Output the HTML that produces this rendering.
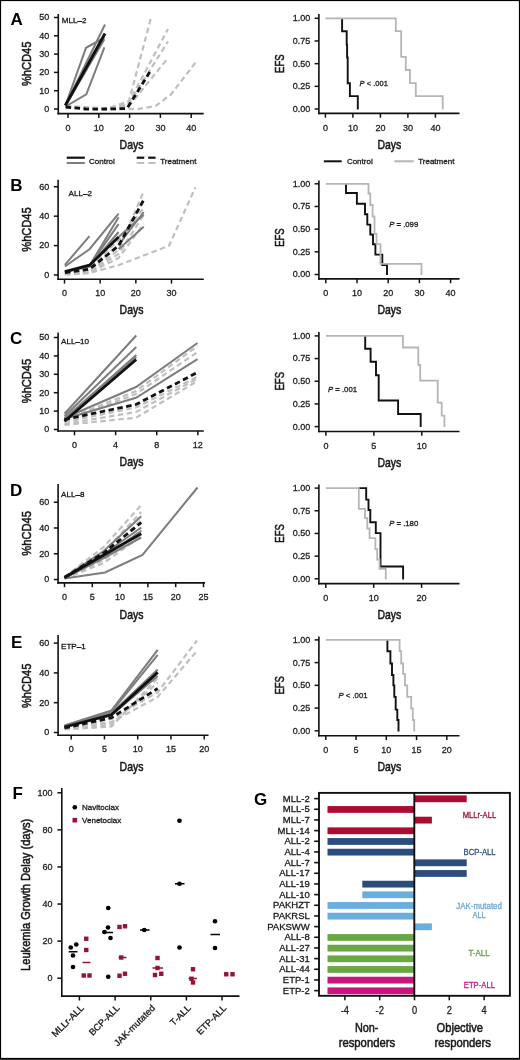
<!DOCTYPE html>
<html><head><meta charset="utf-8"><title>Figure</title>
<style>
html,body{margin:0;padding:0;background:#fff;}
body{width:520px;height:1060px;overflow:hidden;}
svg{display:block;font-family:"Liberation Sans", sans-serif;filter:blur(0.35px);}

</style></head>
<body>
<svg width="520" height="1060" viewBox="0 0 520 1060">
<rect x="0" y="0" width="520" height="1060" fill="#fff"/>
<text x="10.40" y="24.50" font-size="17" fill="#000" font-weight="bold" >A</text>
<line x1="58.30" y1="14.00" x2="58.30" y2="114.40" stroke="#111" stroke-width="1.6"/>
<line x1="57.50" y1="113.60" x2="203.70" y2="113.60" stroke="#111" stroke-width="1.6"/>
<line x1="54.00" y1="109.00" x2="58.30" y2="109.00" stroke="#111" stroke-width="1.5"/>
<text x="49.20" y="111.90" font-size="9.72" fill="#222" stroke="#222" stroke-width="0.3" text-anchor="end" textLength="5.0" lengthAdjust="spacingAndGlyphs" >0</text>
<line x1="54.00" y1="90.70" x2="58.30" y2="90.70" stroke="#111" stroke-width="1.5"/>
<text x="49.20" y="93.60" font-size="9.72" fill="#222" stroke="#222" stroke-width="0.3" text-anchor="end" textLength="10.01" lengthAdjust="spacingAndGlyphs" >10</text>
<line x1="54.00" y1="72.40" x2="58.30" y2="72.40" stroke="#111" stroke-width="1.5"/>
<text x="49.20" y="75.30" font-size="9.72" fill="#222" stroke="#222" stroke-width="0.3" text-anchor="end" textLength="10.01" lengthAdjust="spacingAndGlyphs" >20</text>
<line x1="54.00" y1="54.10" x2="58.30" y2="54.10" stroke="#111" stroke-width="1.5"/>
<text x="49.20" y="57.00" font-size="9.72" fill="#222" stroke="#222" stroke-width="0.3" text-anchor="end" textLength="10.01" lengthAdjust="spacingAndGlyphs" >30</text>
<line x1="54.00" y1="35.80" x2="58.30" y2="35.80" stroke="#111" stroke-width="1.5"/>
<text x="49.20" y="38.70" font-size="9.72" fill="#222" stroke="#222" stroke-width="0.3" text-anchor="end" textLength="10.01" lengthAdjust="spacingAndGlyphs" >40</text>
<line x1="54.00" y1="17.50" x2="58.30" y2="17.50" stroke="#111" stroke-width="1.5"/>
<text x="49.20" y="20.40" font-size="9.72" fill="#222" stroke="#222" stroke-width="0.3" text-anchor="end" textLength="10.01" lengthAdjust="spacingAndGlyphs" >50</text>
<line x1="68.00" y1="113.60" x2="68.00" y2="117.90" stroke="#111" stroke-width="1.5"/>
<text x="68.00" y="130.70" font-size="9.72" fill="#222" stroke="#222" stroke-width="0.3" text-anchor="middle" textLength="5.0" lengthAdjust="spacingAndGlyphs" >0</text>
<line x1="98.80" y1="113.60" x2="98.80" y2="117.90" stroke="#111" stroke-width="1.5"/>
<text x="98.80" y="130.70" font-size="9.72" fill="#222" stroke="#222" stroke-width="0.3" text-anchor="middle" textLength="10.01" lengthAdjust="spacingAndGlyphs" >10</text>
<line x1="129.60" y1="113.60" x2="129.60" y2="117.90" stroke="#111" stroke-width="1.5"/>
<text x="129.60" y="130.70" font-size="9.72" fill="#222" stroke="#222" stroke-width="0.3" text-anchor="middle" textLength="10.01" lengthAdjust="spacingAndGlyphs" >20</text>
<line x1="160.40" y1="113.60" x2="160.40" y2="117.90" stroke="#111" stroke-width="1.5"/>
<text x="160.40" y="130.70" font-size="9.72" fill="#222" stroke="#222" stroke-width="0.3" text-anchor="middle" textLength="10.01" lengthAdjust="spacingAndGlyphs" >30</text>
<line x1="191.20" y1="113.60" x2="191.20" y2="117.90" stroke="#111" stroke-width="1.5"/>
<text x="191.20" y="130.70" font-size="9.72" fill="#222" stroke="#222" stroke-width="0.3" text-anchor="middle" textLength="10.01" lengthAdjust="spacingAndGlyphs" >40</text>
<text x="61.70" y="23.00" font-size="8.1" fill="#1a1a1a" stroke="#1a1a1a" stroke-width="0.3" >MLL&#8211;2</text>
<text x="119.60" y="148.50" font-size="13" fill="#1a1a1a" stroke="#1a1a1a" stroke-width="0.55" textLength="23.8" lengthAdjust="spacingAndGlyphs" >Days</text>
<text x="31.00" y="86.05" font-size="13" fill="#1a1a1a" stroke="#1a1a1a" stroke-width="0.55" textLength="44.5" lengthAdjust="spacingAndGlyphs" transform="rotate(-90 31.00 86.05)">%hCD45</text>
<polyline points="65.60,106.00 108.00,108.50 129.00,101.00 150.80,18.50" fill="none" stroke="#bfbfbf" stroke-width="2.2" stroke-linejoin="miter" stroke-linecap="butt" stroke-dasharray="5.5,3.5"/>
<polyline points="65.60,106.50 108.00,108.50 128.00,104.00 168.00,29.00" fill="none" stroke="#bfbfbf" stroke-width="2.2" stroke-linejoin="miter" stroke-linecap="butt" stroke-dasharray="5.5,3.5"/>
<polyline points="65.60,107.00 108.00,109.00 128.00,105.00 168.00,41.50" fill="none" stroke="#bfbfbf" stroke-width="2.2" stroke-linejoin="miter" stroke-linecap="butt" stroke-dasharray="5.5,3.5"/>
<polyline points="65.60,107.00 108.00,109.00 129.00,106.00 168.00,58.00" fill="none" stroke="#bfbfbf" stroke-width="2.2" stroke-linejoin="miter" stroke-linecap="butt" stroke-dasharray="5.5,3.5"/>
<polyline points="65.60,107.50 108.00,109.50 139.00,108.80 155.60,106.00 171.00,94.40 196.90,60.80" fill="none" stroke="#bfbfbf" stroke-width="2.2" stroke-linejoin="miter" stroke-linecap="butt" stroke-dasharray="5.5,3.5"/>
<polyline points="65.60,105.00 86.00,47.80 104.40,37.70" fill="none" stroke="#7d7d7d" stroke-width="2.0" stroke-linejoin="miter" stroke-linecap="butt"/>
<polyline points="66.50,106.00 86.30,94.40 104.40,47.30" fill="none" stroke="#7d7d7d" stroke-width="2.0" stroke-linejoin="miter" stroke-linecap="butt"/>
<polyline points="65.60,105.00 105.00,24.50" fill="none" stroke="#7d7d7d" stroke-width="2.0" stroke-linejoin="miter" stroke-linecap="butt"/>
<polyline points="65.60,105.50 104.40,39.30" fill="none" stroke="#7d7d7d" stroke-width="2.0" stroke-linejoin="miter" stroke-linecap="butt"/>
<polyline points="65.30,105.50 105.00,33.50" fill="none" stroke="#111" stroke-width="2.9" stroke-linejoin="miter" stroke-linecap="butt"/>
<polyline points="65.60,107.00 86.00,109.00 99.00,109.20 127.00,108.50 150.80,70.40" fill="none" stroke="#111" stroke-width="2.8" stroke-linejoin="miter" stroke-linecap="butt" stroke-dasharray="5.5,3.5"/>
<line x1="66.70" y1="157.70" x2="84.80" y2="157.70" stroke="#111" stroke-width="2.2"/>
<line x1="66.70" y1="163.00" x2="84.80" y2="163.00" stroke="#7d7d7d" stroke-width="2.0"/>
<text x="89.00" y="164.30" font-size="8" fill="#1a1a1a" stroke="#1a1a1a" stroke-width="0.3" >Control</text>
<line x1="136.70" y1="157.70" x2="155.60" y2="157.70" stroke="#111" stroke-width="2.2"/>
<line x1="136.7" y1="157.7" x2="155.6" y2="157.7" stroke="#fff" stroke-width="3" stroke-dasharray="0,7.5,4,100"/>
<line x1="136.70" y1="163.00" x2="155.60" y2="163.00" stroke="#bfbfbf" stroke-width="2.0"/>
<line x1="136.7" y1="163" x2="155.6" y2="163" stroke="#fff" stroke-width="3" stroke-dasharray="0,7.5,4,100"/>
<text x="160.20" y="164.30" font-size="8" fill="#1a1a1a" stroke="#1a1a1a" stroke-width="0.3" >Treatment</text>
<text x="10.30" y="191.20" font-size="17" fill="#000" font-weight="bold" >B</text>
<line x1="58.10" y1="179.70" x2="58.10" y2="280.10" stroke="#111" stroke-width="1.6"/>
<line x1="57.30" y1="279.30" x2="203.80" y2="279.30" stroke="#111" stroke-width="1.6"/>
<line x1="53.80" y1="275.00" x2="58.10" y2="275.00" stroke="#111" stroke-width="1.5"/>
<text x="49.20" y="277.90" font-size="9.72" fill="#222" stroke="#222" stroke-width="0.3" text-anchor="end" textLength="5.0" lengthAdjust="spacingAndGlyphs" >0</text>
<line x1="53.80" y1="245.58" x2="58.10" y2="245.58" stroke="#111" stroke-width="1.5"/>
<text x="49.20" y="248.48" font-size="9.72" fill="#222" stroke="#222" stroke-width="0.3" text-anchor="end" textLength="10.01" lengthAdjust="spacingAndGlyphs" >20</text>
<line x1="53.80" y1="216.17" x2="58.10" y2="216.17" stroke="#111" stroke-width="1.5"/>
<text x="49.20" y="219.07" font-size="9.72" fill="#222" stroke="#222" stroke-width="0.3" text-anchor="end" textLength="10.01" lengthAdjust="spacingAndGlyphs" >40</text>
<line x1="53.80" y1="186.75" x2="58.10" y2="186.75" stroke="#111" stroke-width="1.5"/>
<text x="49.20" y="189.65" font-size="9.72" fill="#222" stroke="#222" stroke-width="0.3" text-anchor="end" textLength="10.01" lengthAdjust="spacingAndGlyphs" >60</text>
<line x1="64.50" y1="279.30" x2="64.50" y2="283.60" stroke="#111" stroke-width="1.5"/>
<text x="64.50" y="296.40" font-size="9.72" fill="#222" stroke="#222" stroke-width="0.3" text-anchor="middle" textLength="5.0" lengthAdjust="spacingAndGlyphs" >0</text>
<line x1="100.17" y1="279.30" x2="100.17" y2="283.60" stroke="#111" stroke-width="1.5"/>
<text x="100.17" y="296.40" font-size="9.72" fill="#222" stroke="#222" stroke-width="0.3" text-anchor="middle" textLength="10.01" lengthAdjust="spacingAndGlyphs" >10</text>
<line x1="135.84" y1="279.30" x2="135.84" y2="283.60" stroke="#111" stroke-width="1.5"/>
<text x="135.84" y="296.40" font-size="9.72" fill="#222" stroke="#222" stroke-width="0.3" text-anchor="middle" textLength="10.01" lengthAdjust="spacingAndGlyphs" >20</text>
<line x1="171.51" y1="279.30" x2="171.51" y2="283.60" stroke="#111" stroke-width="1.5"/>
<text x="171.51" y="296.40" font-size="9.72" fill="#222" stroke="#222" stroke-width="0.3" text-anchor="middle" textLength="10.01" lengthAdjust="spacingAndGlyphs" >30</text>
<text x="68.50" y="195.60" font-size="8.1" fill="#1a1a1a" stroke="#1a1a1a" stroke-width="0.3" >ALL&#8211;2</text>
<text x="119.60" y="313.70" font-size="13" fill="#1a1a1a" stroke="#1a1a1a" stroke-width="0.55" textLength="23.8" lengthAdjust="spacingAndGlyphs" >Days</text>
<text x="31.20" y="251.75" font-size="13" fill="#1a1a1a" stroke="#1a1a1a" stroke-width="0.55" textLength="44.5" lengthAdjust="spacingAndGlyphs" transform="rotate(-90 31.20 251.75)">%hCD45</text>
<polyline points="64.90,273.50 89.50,272.00 118.60,250.00 143.70,191.50" fill="none" stroke="#bfbfbf" stroke-width="2.2" stroke-linejoin="miter" stroke-linecap="butt" stroke-dasharray="5.5,3.5"/>
<polyline points="64.90,273.50 89.50,271.00 118.60,245.00 143.70,200.00" fill="none" stroke="#bfbfbf" stroke-width="2.2" stroke-linejoin="miter" stroke-linecap="butt" stroke-dasharray="5.5,3.5"/>
<polyline points="64.90,274.50 89.50,273.00 119.00,265.00 169.00,245.80 195.40,187.30" fill="none" stroke="#bfbfbf" stroke-width="2.2" stroke-linejoin="miter" stroke-linecap="butt" stroke-dasharray="5.5,3.5"/>
<polyline points="64.90,273.00 89.50,268.00 118.60,240.00 143.70,208.00" fill="none" stroke="#bfbfbf" stroke-width="2.2" stroke-linejoin="miter" stroke-linecap="butt" stroke-dasharray="5.5,3.5"/>
<polyline points="64.90,274.00 89.50,272.00 118.60,254.00 143.70,215.00" fill="none" stroke="#bfbfbf" stroke-width="2.2" stroke-linejoin="miter" stroke-linecap="butt" stroke-dasharray="5.5,3.5"/>
<polyline points="64.90,274.50 89.50,272.50 118.60,258.00 143.70,224.00" fill="none" stroke="#bfbfbf" stroke-width="2.2" stroke-linejoin="miter" stroke-linecap="butt" stroke-dasharray="5.5,3.5"/>
<polyline points="64.90,264.80 89.50,236.20" fill="none" stroke="#7d7d7d" stroke-width="2.0" stroke-linejoin="miter" stroke-linecap="butt"/>
<polyline points="64.90,266.50 89.50,249.20 118.60,213.70" fill="none" stroke="#7d7d7d" stroke-width="2.0" stroke-linejoin="miter" stroke-linecap="butt"/>
<polyline points="64.90,271.70 89.50,265.70 118.60,217.20" fill="none" stroke="#7d7d7d" stroke-width="2.0" stroke-linejoin="miter" stroke-linecap="butt"/>
<polyline points="89.50,265.70 118.60,224.10" fill="none" stroke="#7d7d7d" stroke-width="2.0" stroke-linejoin="miter" stroke-linecap="butt"/>
<polyline points="64.90,272.00 89.50,266.50 118.60,232.00" fill="none" stroke="#7d7d7d" stroke-width="2.0" stroke-linejoin="miter" stroke-linecap="butt"/>
<polyline points="118.60,249.20 143.70,226.70" fill="none" stroke="#7d7d7d" stroke-width="2.0" stroke-linejoin="miter" stroke-linecap="butt"/>
<polyline points="118.60,237.10 143.70,214.60" fill="none" stroke="#7d7d7d" stroke-width="2.0" stroke-linejoin="miter" stroke-linecap="butt"/>
<polyline points="118.60,245.00 143.70,212.00" fill="none" stroke="#7d7d7d" stroke-width="2.0" stroke-linejoin="miter" stroke-linecap="butt"/>
<polyline points="64.90,271.70 89.50,265.20 118.60,237.10" fill="none" stroke="#111" stroke-width="2.8" stroke-linejoin="miter" stroke-linecap="butt"/>
<polyline points="64.90,272.60 89.50,269.10 118.60,245.80 143.70,199.90" fill="none" stroke="#111" stroke-width="2.8" stroke-linejoin="miter" stroke-linecap="butt" stroke-dasharray="5.5,3.5"/>
<text x="9.90" y="343.80" font-size="17" fill="#000" font-weight="bold" >C</text>
<line x1="58.10" y1="332.50" x2="58.10" y2="431.80" stroke="#111" stroke-width="1.6"/>
<line x1="57.30" y1="431.00" x2="203.80" y2="431.00" stroke="#111" stroke-width="1.6"/>
<line x1="53.80" y1="429.50" x2="58.10" y2="429.50" stroke="#111" stroke-width="1.5"/>
<text x="49.20" y="432.40" font-size="9.72" fill="#222" stroke="#222" stroke-width="0.3" text-anchor="end" textLength="5.0" lengthAdjust="spacingAndGlyphs" >0</text>
<line x1="53.80" y1="411.10" x2="58.10" y2="411.10" stroke="#111" stroke-width="1.5"/>
<text x="49.20" y="414.00" font-size="9.72" fill="#222" stroke="#222" stroke-width="0.3" text-anchor="end" textLength="10.01" lengthAdjust="spacingAndGlyphs" >10</text>
<line x1="53.80" y1="392.70" x2="58.10" y2="392.70" stroke="#111" stroke-width="1.5"/>
<text x="49.20" y="395.60" font-size="9.72" fill="#222" stroke="#222" stroke-width="0.3" text-anchor="end" textLength="10.01" lengthAdjust="spacingAndGlyphs" >20</text>
<line x1="53.80" y1="374.30" x2="58.10" y2="374.30" stroke="#111" stroke-width="1.5"/>
<text x="49.20" y="377.20" font-size="9.72" fill="#222" stroke="#222" stroke-width="0.3" text-anchor="end" textLength="10.01" lengthAdjust="spacingAndGlyphs" >30</text>
<line x1="53.80" y1="355.90" x2="58.10" y2="355.90" stroke="#111" stroke-width="1.5"/>
<text x="49.20" y="358.80" font-size="9.72" fill="#222" stroke="#222" stroke-width="0.3" text-anchor="end" textLength="10.01" lengthAdjust="spacingAndGlyphs" >40</text>
<line x1="53.80" y1="337.50" x2="58.10" y2="337.50" stroke="#111" stroke-width="1.5"/>
<text x="49.20" y="340.40" font-size="9.72" fill="#222" stroke="#222" stroke-width="0.3" text-anchor="end" textLength="10.01" lengthAdjust="spacingAndGlyphs" >50</text>
<line x1="74.50" y1="431.00" x2="74.50" y2="435.30" stroke="#111" stroke-width="1.5"/>
<text x="74.50" y="448.10" font-size="9.72" fill="#222" stroke="#222" stroke-width="0.3" text-anchor="middle" textLength="5.0" lengthAdjust="spacingAndGlyphs" >0</text>
<line x1="115.62" y1="431.00" x2="115.62" y2="435.30" stroke="#111" stroke-width="1.5"/>
<text x="115.62" y="448.10" font-size="9.72" fill="#222" stroke="#222" stroke-width="0.3" text-anchor="middle" textLength="5.0" lengthAdjust="spacingAndGlyphs" >4</text>
<line x1="156.74" y1="431.00" x2="156.74" y2="435.30" stroke="#111" stroke-width="1.5"/>
<text x="156.74" y="448.10" font-size="9.72" fill="#222" stroke="#222" stroke-width="0.3" text-anchor="middle" textLength="5.0" lengthAdjust="spacingAndGlyphs" >8</text>
<line x1="197.86" y1="431.00" x2="197.86" y2="435.30" stroke="#111" stroke-width="1.5"/>
<text x="197.86" y="448.10" font-size="9.72" fill="#222" stroke="#222" stroke-width="0.3" text-anchor="middle" textLength="10.01" lengthAdjust="spacingAndGlyphs" >12</text>
<text x="61.00" y="344.00" font-size="8.1" fill="#1a1a1a" stroke="#1a1a1a" stroke-width="0.3" >ALL&#8211;10</text>
<text x="119.60" y="466.10" font-size="13" fill="#1a1a1a" stroke="#1a1a1a" stroke-width="0.55" textLength="23.8" lengthAdjust="spacingAndGlyphs" >Days</text>
<text x="31.20" y="403.25" font-size="13" fill="#1a1a1a" stroke="#1a1a1a" stroke-width="0.55" textLength="44.5" lengthAdjust="spacingAndGlyphs" transform="rotate(-90 31.20 403.25)">%hCD45</text>
<polyline points="64.50,420.00 136.00,391.00 197.50,346.00" fill="none" stroke="#bfbfbf" stroke-width="2.2" stroke-linejoin="miter" stroke-linecap="butt" stroke-dasharray="5.5,3.5"/>
<polyline points="64.50,421.00 136.00,394.00 197.50,352.00" fill="none" stroke="#bfbfbf" stroke-width="2.2" stroke-linejoin="miter" stroke-linecap="butt" stroke-dasharray="5.5,3.5"/>
<polyline points="64.50,422.00 136.00,407.50 197.50,376.80" fill="none" stroke="#bfbfbf" stroke-width="2.2" stroke-linejoin="miter" stroke-linecap="butt" stroke-dasharray="5.5,3.5"/>
<polyline points="64.50,424.00 136.00,412.00 197.50,378.50" fill="none" stroke="#bfbfbf" stroke-width="2.2" stroke-linejoin="miter" stroke-linecap="butt" stroke-dasharray="5.5,3.5"/>
<polyline points="64.50,425.00 136.00,417.70 197.50,381.00" fill="none" stroke="#bfbfbf" stroke-width="2.2" stroke-linejoin="miter" stroke-linecap="butt" stroke-dasharray="5.5,3.5"/>
<polyline points="64.50,413.75 136.25,335.50" fill="none" stroke="#7d7d7d" stroke-width="2.0" stroke-linejoin="miter" stroke-linecap="butt"/>
<polyline points="64.50,416.25 136.25,347.00" fill="none" stroke="#7d7d7d" stroke-width="2.0" stroke-linejoin="miter" stroke-linecap="butt"/>
<polyline points="64.50,418.75 136.25,355.00" fill="none" stroke="#7d7d7d" stroke-width="2.0" stroke-linejoin="miter" stroke-linecap="butt"/>
<polyline points="64.50,420.00 136.25,357.00" fill="none" stroke="#7d7d7d" stroke-width="2.0" stroke-linejoin="miter" stroke-linecap="butt"/>
<polyline points="64.50,418.00 136.00,387.00 197.50,343.00" fill="none" stroke="#7d7d7d" stroke-width="2.0" stroke-linejoin="miter" stroke-linecap="butt"/>
<polyline points="64.50,419.00 136.00,397.80 197.50,359.20" fill="none" stroke="#7d7d7d" stroke-width="2.0" stroke-linejoin="miter" stroke-linecap="butt"/>
<polyline points="64.50,421.25 136.25,359.50" fill="none" stroke="#111" stroke-width="2.8" stroke-linejoin="miter" stroke-linecap="butt"/>
<polyline points="64.50,419.50 136.00,404.50 197.50,372.40" fill="none" stroke="#111" stroke-width="2.8" stroke-linejoin="miter" stroke-linecap="butt" stroke-dasharray="5.5,3.5"/>
<text x="9.90" y="495.50" font-size="17" fill="#000" font-weight="bold" >D</text>
<line x1="58.10" y1="484.00" x2="58.10" y2="583.70" stroke="#111" stroke-width="1.6"/>
<line x1="57.30" y1="582.90" x2="205.00" y2="582.90" stroke="#111" stroke-width="1.6"/>
<line x1="53.80" y1="579.50" x2="58.10" y2="579.50" stroke="#111" stroke-width="1.5"/>
<text x="49.20" y="582.40" font-size="9.72" fill="#222" stroke="#222" stroke-width="0.3" text-anchor="end" textLength="5.0" lengthAdjust="spacingAndGlyphs" >0</text>
<line x1="53.80" y1="553.75" x2="58.10" y2="553.75" stroke="#111" stroke-width="1.5"/>
<text x="49.20" y="556.65" font-size="9.72" fill="#222" stroke="#222" stroke-width="0.3" text-anchor="end" textLength="10.01" lengthAdjust="spacingAndGlyphs" >20</text>
<line x1="53.80" y1="528.00" x2="58.10" y2="528.00" stroke="#111" stroke-width="1.5"/>
<text x="49.20" y="530.90" font-size="9.72" fill="#222" stroke="#222" stroke-width="0.3" text-anchor="end" textLength="10.01" lengthAdjust="spacingAndGlyphs" >40</text>
<line x1="53.80" y1="502.25" x2="58.10" y2="502.25" stroke="#111" stroke-width="1.5"/>
<text x="49.20" y="505.15" font-size="9.72" fill="#222" stroke="#222" stroke-width="0.3" text-anchor="end" textLength="10.01" lengthAdjust="spacingAndGlyphs" >60</text>
<line x1="64.50" y1="582.90" x2="64.50" y2="587.20" stroke="#111" stroke-width="1.5"/>
<text x="64.50" y="600.00" font-size="9.72" fill="#222" stroke="#222" stroke-width="0.3" text-anchor="middle" textLength="5.0" lengthAdjust="spacingAndGlyphs" >0</text>
<line x1="92.30" y1="582.90" x2="92.30" y2="587.20" stroke="#111" stroke-width="1.5"/>
<text x="92.30" y="600.00" font-size="9.72" fill="#222" stroke="#222" stroke-width="0.3" text-anchor="middle" textLength="5.0" lengthAdjust="spacingAndGlyphs" >5</text>
<line x1="120.10" y1="582.90" x2="120.10" y2="587.20" stroke="#111" stroke-width="1.5"/>
<text x="120.10" y="600.00" font-size="9.72" fill="#222" stroke="#222" stroke-width="0.3" text-anchor="middle" textLength="10.01" lengthAdjust="spacingAndGlyphs" >10</text>
<line x1="147.90" y1="582.90" x2="147.90" y2="587.20" stroke="#111" stroke-width="1.5"/>
<text x="147.90" y="600.00" font-size="9.72" fill="#222" stroke="#222" stroke-width="0.3" text-anchor="middle" textLength="10.01" lengthAdjust="spacingAndGlyphs" >15</text>
<line x1="175.70" y1="582.90" x2="175.70" y2="587.20" stroke="#111" stroke-width="1.5"/>
<text x="175.70" y="600.00" font-size="9.72" fill="#222" stroke="#222" stroke-width="0.3" text-anchor="middle" textLength="10.01" lengthAdjust="spacingAndGlyphs" >20</text>
<line x1="203.50" y1="582.90" x2="203.50" y2="587.20" stroke="#111" stroke-width="1.5"/>
<text x="203.50" y="600.00" font-size="9.72" fill="#222" stroke="#222" stroke-width="0.3" text-anchor="middle" textLength="10.01" lengthAdjust="spacingAndGlyphs" >25</text>
<text x="61.00" y="496.50" font-size="8.1" fill="#1a1a1a" stroke="#1a1a1a" stroke-width="0.3" >ALL&#8211;8</text>
<text x="119.60" y="619.00" font-size="13" fill="#1a1a1a" stroke="#1a1a1a" stroke-width="0.55" textLength="23.8" lengthAdjust="spacingAndGlyphs" >Days</text>
<text x="31.20" y="555.65" font-size="13" fill="#1a1a1a" stroke="#1a1a1a" stroke-width="0.55" textLength="44.5" lengthAdjust="spacingAndGlyphs" transform="rotate(-90 31.20 555.65)">%hCD45</text>
<polyline points="64.50,577.00 103.75,547.00 141.25,505.00" fill="none" stroke="#bfbfbf" stroke-width="2.2" stroke-linejoin="miter" stroke-linecap="butt" stroke-dasharray="5.5,3.5"/>
<polyline points="64.50,577.50 103.75,552.00 141.25,512.00" fill="none" stroke="#bfbfbf" stroke-width="2.2" stroke-linejoin="miter" stroke-linecap="butt" stroke-dasharray="5.5,3.5"/>
<polyline points="64.50,578.00 103.75,556.00 141.25,520.00" fill="none" stroke="#bfbfbf" stroke-width="2.2" stroke-linejoin="miter" stroke-linecap="butt" stroke-dasharray="5.5,3.5"/>
<polyline points="64.50,578.00 103.75,560.00 141.25,530.00" fill="none" stroke="#bfbfbf" stroke-width="2.2" stroke-linejoin="miter" stroke-linecap="butt" stroke-dasharray="5.5,3.5"/>
<polyline points="64.50,578.50 103.75,563.00 141.25,536.00" fill="none" stroke="#bfbfbf" stroke-width="2.2" stroke-linejoin="miter" stroke-linecap="butt" stroke-dasharray="5.5,3.5"/>
<polyline points="64.50,578.50 105.00,572.50 142.50,555.00 197.50,487.50" fill="none" stroke="#7d7d7d" stroke-width="2.0" stroke-linejoin="miter" stroke-linecap="butt"/>
<polyline points="64.50,577.00 103.75,551.00 141.25,516.25" fill="none" stroke="#7d7d7d" stroke-width="2.0" stroke-linejoin="miter" stroke-linecap="butt"/>
<polyline points="64.50,577.50 103.75,554.00 141.25,527.50" fill="none" stroke="#7d7d7d" stroke-width="2.0" stroke-linejoin="miter" stroke-linecap="butt"/>
<polyline points="64.50,578.00 103.75,557.00 141.25,531.00" fill="none" stroke="#7d7d7d" stroke-width="2.0" stroke-linejoin="miter" stroke-linecap="butt"/>
<polyline points="64.50,578.00 103.75,558.00 141.25,537.50" fill="none" stroke="#7d7d7d" stroke-width="2.0" stroke-linejoin="miter" stroke-linecap="butt"/>
<polyline points="64.50,577.50 103.75,555.00 141.25,533.75" fill="none" stroke="#111" stroke-width="2.8" stroke-linejoin="miter" stroke-linecap="butt"/>
<polyline points="64.50,577.50 103.75,553.00 141.25,522.50" fill="none" stroke="#111" stroke-width="2.8" stroke-linejoin="miter" stroke-linecap="butt" stroke-dasharray="5.5,3.5"/>
<text x="11.00" y="647.80" font-size="17" fill="#000" font-weight="bold" >E</text>
<line x1="58.10" y1="635.00" x2="58.10" y2="736.00" stroke="#111" stroke-width="1.6"/>
<line x1="57.30" y1="735.20" x2="208.50" y2="735.20" stroke="#111" stroke-width="1.6"/>
<line x1="53.80" y1="732.50" x2="58.10" y2="732.50" stroke="#111" stroke-width="1.5"/>
<text x="49.20" y="735.40" font-size="9.72" fill="#222" stroke="#222" stroke-width="0.3" text-anchor="end" textLength="5.0" lengthAdjust="spacingAndGlyphs" >0</text>
<line x1="53.80" y1="702.70" x2="58.10" y2="702.70" stroke="#111" stroke-width="1.5"/>
<text x="49.20" y="705.60" font-size="9.72" fill="#222" stroke="#222" stroke-width="0.3" text-anchor="end" textLength="10.01" lengthAdjust="spacingAndGlyphs" >20</text>
<line x1="53.80" y1="672.90" x2="58.10" y2="672.90" stroke="#111" stroke-width="1.5"/>
<text x="49.20" y="675.80" font-size="9.72" fill="#222" stroke="#222" stroke-width="0.3" text-anchor="end" textLength="10.01" lengthAdjust="spacingAndGlyphs" >40</text>
<line x1="53.80" y1="643.10" x2="58.10" y2="643.10" stroke="#111" stroke-width="1.5"/>
<text x="49.20" y="646.00" font-size="9.72" fill="#222" stroke="#222" stroke-width="0.3" text-anchor="end" textLength="10.01" lengthAdjust="spacingAndGlyphs" >60</text>
<line x1="71.20" y1="735.20" x2="71.20" y2="739.50" stroke="#111" stroke-width="1.5"/>
<text x="71.20" y="752.30" font-size="9.72" fill="#222" stroke="#222" stroke-width="0.3" text-anchor="middle" textLength="5.0" lengthAdjust="spacingAndGlyphs" >0</text>
<line x1="104.45" y1="735.20" x2="104.45" y2="739.50" stroke="#111" stroke-width="1.5"/>
<text x="104.45" y="752.30" font-size="9.72" fill="#222" stroke="#222" stroke-width="0.3" text-anchor="middle" textLength="5.0" lengthAdjust="spacingAndGlyphs" >5</text>
<line x1="137.70" y1="735.20" x2="137.70" y2="739.50" stroke="#111" stroke-width="1.5"/>
<text x="137.70" y="752.30" font-size="9.72" fill="#222" stroke="#222" stroke-width="0.3" text-anchor="middle" textLength="10.01" lengthAdjust="spacingAndGlyphs" >10</text>
<line x1="170.95" y1="735.20" x2="170.95" y2="739.50" stroke="#111" stroke-width="1.5"/>
<text x="170.95" y="752.30" font-size="9.72" fill="#222" stroke="#222" stroke-width="0.3" text-anchor="middle" textLength="10.01" lengthAdjust="spacingAndGlyphs" >15</text>
<line x1="204.20" y1="735.20" x2="204.20" y2="739.50" stroke="#111" stroke-width="1.5"/>
<text x="204.20" y="752.30" font-size="9.72" fill="#222" stroke="#222" stroke-width="0.3" text-anchor="middle" textLength="10.01" lengthAdjust="spacingAndGlyphs" >20</text>
<text x="61.00" y="649.00" font-size="8.1" fill="#1a1a1a" stroke="#1a1a1a" stroke-width="0.3" >ETP&#8211;1</text>
<text x="119.60" y="770.60" font-size="13" fill="#1a1a1a" stroke="#1a1a1a" stroke-width="0.55" textLength="23.8" lengthAdjust="spacingAndGlyphs" >Days</text>
<text x="31.20" y="708.05" font-size="13" fill="#1a1a1a" stroke="#1a1a1a" stroke-width="0.55" textLength="44.5" lengthAdjust="spacingAndGlyphs" transform="rotate(-90 31.20 708.05)">%hCD45</text>
<polyline points="64.50,728.00 111.50,719.00 157.70,692.30 197.00,640.40" fill="none" stroke="#bfbfbf" stroke-width="2.2" stroke-linejoin="miter" stroke-linecap="butt" stroke-dasharray="5.5,3.5"/>
<polyline points="64.50,728.50 111.50,722.00 157.70,697.00 197.00,650.80" fill="none" stroke="#bfbfbf" stroke-width="2.2" stroke-linejoin="miter" stroke-linecap="butt" stroke-dasharray="5.5,3.5"/>
<polyline points="64.50,729.00 111.50,724.00 157.70,682.60" fill="none" stroke="#bfbfbf" stroke-width="2.2" stroke-linejoin="miter" stroke-linecap="butt" stroke-dasharray="5.5,3.5"/>
<polyline points="64.50,729.50 111.50,726.50 157.70,678.00" fill="none" stroke="#bfbfbf" stroke-width="2.2" stroke-linejoin="miter" stroke-linecap="butt" stroke-dasharray="5.5,3.5"/>
<polyline points="64.50,725.50 111.50,710.40 157.70,649.90" fill="none" stroke="#7d7d7d" stroke-width="2.0" stroke-linejoin="miter" stroke-linecap="butt"/>
<polyline points="64.50,726.00 111.50,712.00 157.70,654.80" fill="none" stroke="#7d7d7d" stroke-width="2.0" stroke-linejoin="miter" stroke-linecap="butt"/>
<polyline points="64.50,726.50 111.50,713.30 157.70,669.50" fill="none" stroke="#7d7d7d" stroke-width="2.0" stroke-linejoin="miter" stroke-linecap="butt"/>
<polyline points="64.50,727.00 111.50,715.00 157.70,676.00" fill="none" stroke="#7d7d7d" stroke-width="2.0" stroke-linejoin="miter" stroke-linecap="butt"/>
<polyline points="64.50,727.00 111.50,714.80 157.70,672.40" fill="none" stroke="#111" stroke-width="2.8" stroke-linejoin="miter" stroke-linecap="butt"/>
<polyline points="64.50,728.00 111.50,717.70 157.70,688.50" fill="none" stroke="#111" stroke-width="2.8" stroke-linejoin="miter" stroke-linecap="butt" stroke-dasharray="5.5,3.5"/>
<line x1="318.90" y1="14.00" x2="318.90" y2="114.20" stroke="#111" stroke-width="1.6"/>
<line x1="318.10" y1="113.40" x2="459.50" y2="113.40" stroke="#111" stroke-width="1.6"/>
<line x1="314.60" y1="18.30" x2="318.90" y2="18.30" stroke="#111" stroke-width="1.5"/>
<text x="310.30" y="21.20" font-size="9.72" fill="#222" stroke="#222" stroke-width="0.3" text-anchor="end" textLength="17.51" lengthAdjust="spacingAndGlyphs" >1.00</text>
<line x1="314.60" y1="40.97" x2="318.90" y2="40.97" stroke="#111" stroke-width="1.5"/>
<text x="310.30" y="43.87" font-size="9.72" fill="#222" stroke="#222" stroke-width="0.3" text-anchor="end" textLength="17.51" lengthAdjust="spacingAndGlyphs" >0.75</text>
<line x1="314.60" y1="63.65" x2="318.90" y2="63.65" stroke="#111" stroke-width="1.5"/>
<text x="310.30" y="66.55" font-size="9.72" fill="#222" stroke="#222" stroke-width="0.3" text-anchor="end" textLength="17.51" lengthAdjust="spacingAndGlyphs" >0.50</text>
<line x1="314.60" y1="86.33" x2="318.90" y2="86.33" stroke="#111" stroke-width="1.5"/>
<text x="310.30" y="89.23" font-size="9.72" fill="#222" stroke="#222" stroke-width="0.3" text-anchor="end" textLength="17.51" lengthAdjust="spacingAndGlyphs" >0.25</text>
<line x1="314.60" y1="109.00" x2="318.90" y2="109.00" stroke="#111" stroke-width="1.5"/>
<text x="310.30" y="111.90" font-size="9.72" fill="#222" stroke="#222" stroke-width="0.3" text-anchor="end" textLength="17.51" lengthAdjust="spacingAndGlyphs" >0.00</text>
<line x1="325.40" y1="113.40" x2="325.40" y2="117.70" stroke="#111" stroke-width="1.5"/>
<text x="325.40" y="130.50" font-size="9.72" fill="#222" stroke="#222" stroke-width="0.3" text-anchor="middle" textLength="5.0" lengthAdjust="spacingAndGlyphs" >0</text>
<line x1="352.90" y1="113.40" x2="352.90" y2="117.70" stroke="#111" stroke-width="1.5"/>
<text x="352.90" y="130.50" font-size="9.72" fill="#222" stroke="#222" stroke-width="0.3" text-anchor="middle" textLength="10.01" lengthAdjust="spacingAndGlyphs" >10</text>
<line x1="380.40" y1="113.40" x2="380.40" y2="117.70" stroke="#111" stroke-width="1.5"/>
<text x="380.40" y="130.50" font-size="9.72" fill="#222" stroke="#222" stroke-width="0.3" text-anchor="middle" textLength="10.01" lengthAdjust="spacingAndGlyphs" >20</text>
<line x1="407.90" y1="113.40" x2="407.90" y2="117.70" stroke="#111" stroke-width="1.5"/>
<text x="407.90" y="130.50" font-size="9.72" fill="#222" stroke="#222" stroke-width="0.3" text-anchor="middle" textLength="10.01" lengthAdjust="spacingAndGlyphs" >30</text>
<line x1="435.40" y1="113.40" x2="435.40" y2="117.70" stroke="#111" stroke-width="1.5"/>
<text x="435.40" y="130.50" font-size="9.72" fill="#222" stroke="#222" stroke-width="0.3" text-anchor="middle" textLength="10.01" lengthAdjust="spacingAndGlyphs" >40</text>
<text x="377.40" y="148.80" font-size="13" fill="#1a1a1a" stroke="#1a1a1a" stroke-width="0.55" textLength="23.8" lengthAdjust="spacingAndGlyphs" >Days</text>
<text x="284.30" y="72.90" font-size="13" fill="#1a1a1a" stroke="#1a1a1a" stroke-width="0.55" textLength="18.5" lengthAdjust="spacingAndGlyphs" transform="rotate(-90 284.30 72.90)">EFS</text>
<path d="M342.1,18.3 V31.3 H346.7 V44.7 H347.1 V57.5 H347.7 V83.3 H349.9 V96.1 H357.8 V109.5" fill="none" stroke="#111" stroke-width="1.9" stroke-linejoin="miter"/>
<path d="M325.5,18.3 H395.8 V31.1 H401.2 V56.9 H405.8 V70 H409.9 V83.1 H415.8 V96.2 H442.7 V109.5" fill="none" stroke="#b5b5b5" stroke-width="1.8" stroke-linejoin="miter"/>
<text x="359.60" y="86.20" font-size="8" fill="#1a1a1a" stroke="#1a1a1a" stroke-width="0.3" textLength="28.3" lengthAdjust="spacingAndGlyphs"><tspan font-style="italic">P</tspan> &lt; .001</text>
<line x1="323.80" y1="161.30" x2="341.70" y2="161.30" stroke="#111" stroke-width="2.0"/>
<text x="346.90" y="164.30" font-size="8" fill="#1a1a1a" stroke="#1a1a1a" stroke-width="0.3" >Control</text>
<line x1="394.40" y1="161.30" x2="413.80" y2="161.30" stroke="#b5b5b5" stroke-width="2.0"/>
<text x="418.20" y="164.30" font-size="8" fill="#1a1a1a" stroke="#1a1a1a" stroke-width="0.3" >Treatment</text>
<line x1="318.90" y1="180.40" x2="318.90" y2="279.70" stroke="#111" stroke-width="1.6"/>
<line x1="318.10" y1="278.90" x2="459.50" y2="278.90" stroke="#111" stroke-width="1.6"/>
<line x1="314.60" y1="183.80" x2="318.90" y2="183.80" stroke="#111" stroke-width="1.5"/>
<text x="310.30" y="186.70" font-size="9.72" fill="#222" stroke="#222" stroke-width="0.3" text-anchor="end" textLength="17.51" lengthAdjust="spacingAndGlyphs" >1.00</text>
<line x1="314.60" y1="206.48" x2="318.90" y2="206.48" stroke="#111" stroke-width="1.5"/>
<text x="310.30" y="209.38" font-size="9.72" fill="#222" stroke="#222" stroke-width="0.3" text-anchor="end" textLength="17.51" lengthAdjust="spacingAndGlyphs" >0.75</text>
<line x1="314.60" y1="229.15" x2="318.90" y2="229.15" stroke="#111" stroke-width="1.5"/>
<text x="310.30" y="232.05" font-size="9.72" fill="#222" stroke="#222" stroke-width="0.3" text-anchor="end" textLength="17.51" lengthAdjust="spacingAndGlyphs" >0.50</text>
<line x1="314.60" y1="251.82" x2="318.90" y2="251.82" stroke="#111" stroke-width="1.5"/>
<text x="310.30" y="254.72" font-size="9.72" fill="#222" stroke="#222" stroke-width="0.3" text-anchor="end" textLength="17.51" lengthAdjust="spacingAndGlyphs" >0.25</text>
<line x1="314.60" y1="274.50" x2="318.90" y2="274.50" stroke="#111" stroke-width="1.5"/>
<text x="310.30" y="277.40" font-size="9.72" fill="#222" stroke="#222" stroke-width="0.3" text-anchor="end" textLength="17.51" lengthAdjust="spacingAndGlyphs" >0.00</text>
<line x1="325.80" y1="278.90" x2="325.80" y2="283.20" stroke="#111" stroke-width="1.5"/>
<text x="325.80" y="296.00" font-size="9.72" fill="#222" stroke="#222" stroke-width="0.3" text-anchor="middle" textLength="5.0" lengthAdjust="spacingAndGlyphs" >0</text>
<line x1="357.00" y1="278.90" x2="357.00" y2="283.20" stroke="#111" stroke-width="1.5"/>
<text x="357.00" y="296.00" font-size="9.72" fill="#222" stroke="#222" stroke-width="0.3" text-anchor="middle" textLength="10.01" lengthAdjust="spacingAndGlyphs" >10</text>
<line x1="388.20" y1="278.90" x2="388.20" y2="283.20" stroke="#111" stroke-width="1.5"/>
<text x="388.20" y="296.00" font-size="9.72" fill="#222" stroke="#222" stroke-width="0.3" text-anchor="middle" textLength="10.01" lengthAdjust="spacingAndGlyphs" >20</text>
<line x1="419.40" y1="278.90" x2="419.40" y2="283.20" stroke="#111" stroke-width="1.5"/>
<text x="419.40" y="296.00" font-size="9.72" fill="#222" stroke="#222" stroke-width="0.3" text-anchor="middle" textLength="10.01" lengthAdjust="spacingAndGlyphs" >30</text>
<line x1="450.60" y1="278.90" x2="450.60" y2="283.20" stroke="#111" stroke-width="1.5"/>
<text x="450.60" y="296.00" font-size="9.72" fill="#222" stroke="#222" stroke-width="0.3" text-anchor="middle" textLength="10.01" lengthAdjust="spacingAndGlyphs" >40</text>
<text x="377.40" y="314.30" font-size="13" fill="#1a1a1a" stroke="#1a1a1a" stroke-width="0.55" textLength="23.8" lengthAdjust="spacingAndGlyphs" >Days</text>
<text x="284.30" y="246.85" font-size="13" fill="#1a1a1a" stroke="#1a1a1a" stroke-width="0.55" textLength="18.5" lengthAdjust="spacingAndGlyphs" transform="rotate(-90 284.30 246.85)">EFS</text>
<path d="M346,183.8 V193 H356.9 V203.8 H365 V214.2 H367.3 V224.6 H370.3 V234.5 H373 V244.2 H375.4 V254.6 H382.3 V265 H387 V275" fill="none" stroke="#111" stroke-width="1.9" stroke-linejoin="miter"/>
<path d="M325.8,183.8 H368.5 V193.5 H370.3 V205 H372.6 V216.5 H374.5 V233.8 H376.5 V244.2 H380.5 V263.8 H421.5 V275" fill="none" stroke="#b5b5b5" stroke-width="1.8" stroke-linejoin="miter"/>
<text x="389.20" y="227.00" font-size="8" fill="#1a1a1a" stroke="#1a1a1a" stroke-width="0.3" textLength="29" lengthAdjust="spacingAndGlyphs"><tspan font-style="italic">P</tspan> = .099</text>
<line x1="318.90" y1="332.00" x2="318.90" y2="432.30" stroke="#111" stroke-width="1.6"/>
<line x1="318.10" y1="431.50" x2="459.50" y2="431.50" stroke="#111" stroke-width="1.6"/>
<line x1="314.60" y1="335.90" x2="318.90" y2="335.90" stroke="#111" stroke-width="1.5"/>
<text x="310.30" y="338.80" font-size="9.72" fill="#222" stroke="#222" stroke-width="0.3" text-anchor="end" textLength="17.51" lengthAdjust="spacingAndGlyphs" >1.00</text>
<line x1="314.60" y1="358.57" x2="318.90" y2="358.57" stroke="#111" stroke-width="1.5"/>
<text x="310.30" y="361.47" font-size="9.72" fill="#222" stroke="#222" stroke-width="0.3" text-anchor="end" textLength="17.51" lengthAdjust="spacingAndGlyphs" >0.75</text>
<line x1="314.60" y1="381.25" x2="318.90" y2="381.25" stroke="#111" stroke-width="1.5"/>
<text x="310.30" y="384.15" font-size="9.72" fill="#222" stroke="#222" stroke-width="0.3" text-anchor="end" textLength="17.51" lengthAdjust="spacingAndGlyphs" >0.50</text>
<line x1="314.60" y1="403.93" x2="318.90" y2="403.93" stroke="#111" stroke-width="1.5"/>
<text x="310.30" y="406.82" font-size="9.72" fill="#222" stroke="#222" stroke-width="0.3" text-anchor="end" textLength="17.51" lengthAdjust="spacingAndGlyphs" >0.25</text>
<line x1="314.60" y1="426.60" x2="318.90" y2="426.60" stroke="#111" stroke-width="1.5"/>
<text x="310.30" y="429.50" font-size="9.72" fill="#222" stroke="#222" stroke-width="0.3" text-anchor="end" textLength="17.51" lengthAdjust="spacingAndGlyphs" >0.00</text>
<line x1="325.90" y1="431.50" x2="325.90" y2="435.80" stroke="#111" stroke-width="1.5"/>
<text x="325.90" y="448.60" font-size="9.72" fill="#222" stroke="#222" stroke-width="0.3" text-anchor="middle" textLength="5.0" lengthAdjust="spacingAndGlyphs" >0</text>
<line x1="373.85" y1="431.50" x2="373.85" y2="435.80" stroke="#111" stroke-width="1.5"/>
<text x="373.85" y="448.60" font-size="9.72" fill="#222" stroke="#222" stroke-width="0.3" text-anchor="middle" textLength="5.0" lengthAdjust="spacingAndGlyphs" >5</text>
<line x1="421.80" y1="431.50" x2="421.80" y2="435.80" stroke="#111" stroke-width="1.5"/>
<text x="421.80" y="448.60" font-size="9.72" fill="#222" stroke="#222" stroke-width="0.3" text-anchor="middle" textLength="10.01" lengthAdjust="spacingAndGlyphs" >10</text>
<text x="377.40" y="466.90" font-size="13" fill="#1a1a1a" stroke="#1a1a1a" stroke-width="0.55" textLength="23.8" lengthAdjust="spacingAndGlyphs" >Days</text>
<text x="284.30" y="390.50" font-size="13" fill="#1a1a1a" stroke="#1a1a1a" stroke-width="0.55" textLength="18.5" lengthAdjust="spacingAndGlyphs" transform="rotate(-90 284.30 390.50)">EFS</text>
<path d="M365.2,335.9 V348.8 H370.6 V361.8 H376 V375.2 H378.7 V400.5 H398.1 V414 H420.7 V427" fill="none" stroke="#111" stroke-width="1.9" stroke-linejoin="miter"/>
<path d="M325.9,335.9 H402.9 V347.5 H418.3 V365 H420.2 V380.6 H437.7 V402.7 H441.7 V415.6 H444.4 V427" fill="none" stroke="#b5b5b5" stroke-width="1.8" stroke-linejoin="miter"/>
<text x="328.00" y="392.00" font-size="8" fill="#1a1a1a" stroke="#1a1a1a" stroke-width="0.3" textLength="29" lengthAdjust="spacingAndGlyphs"><tspan font-style="italic">P</tspan> = .001</text>
<line x1="318.90" y1="484.60" x2="318.90" y2="584.40" stroke="#111" stroke-width="1.6"/>
<line x1="318.10" y1="583.60" x2="459.50" y2="583.60" stroke="#111" stroke-width="1.6"/>
<line x1="314.60" y1="488.10" x2="318.90" y2="488.10" stroke="#111" stroke-width="1.5"/>
<text x="310.30" y="491.00" font-size="9.72" fill="#222" stroke="#222" stroke-width="0.3" text-anchor="end" textLength="17.51" lengthAdjust="spacingAndGlyphs" >1.00</text>
<line x1="314.60" y1="510.77" x2="318.90" y2="510.77" stroke="#111" stroke-width="1.5"/>
<text x="310.30" y="513.67" font-size="9.72" fill="#222" stroke="#222" stroke-width="0.3" text-anchor="end" textLength="17.51" lengthAdjust="spacingAndGlyphs" >0.75</text>
<line x1="314.60" y1="533.45" x2="318.90" y2="533.45" stroke="#111" stroke-width="1.5"/>
<text x="310.30" y="536.35" font-size="9.72" fill="#222" stroke="#222" stroke-width="0.3" text-anchor="end" textLength="17.51" lengthAdjust="spacingAndGlyphs" >0.50</text>
<line x1="314.60" y1="556.12" x2="318.90" y2="556.12" stroke="#111" stroke-width="1.5"/>
<text x="310.30" y="559.02" font-size="9.72" fill="#222" stroke="#222" stroke-width="0.3" text-anchor="end" textLength="17.51" lengthAdjust="spacingAndGlyphs" >0.25</text>
<line x1="314.60" y1="578.80" x2="318.90" y2="578.80" stroke="#111" stroke-width="1.5"/>
<text x="310.30" y="581.70" font-size="9.72" fill="#222" stroke="#222" stroke-width="0.3" text-anchor="end" textLength="17.51" lengthAdjust="spacingAndGlyphs" >0.00</text>
<line x1="325.80" y1="583.60" x2="325.80" y2="587.90" stroke="#111" stroke-width="1.5"/>
<text x="325.80" y="600.70" font-size="9.72" fill="#222" stroke="#222" stroke-width="0.3" text-anchor="middle" textLength="5.0" lengthAdjust="spacingAndGlyphs" >0</text>
<line x1="373.70" y1="583.60" x2="373.70" y2="587.90" stroke="#111" stroke-width="1.5"/>
<text x="373.70" y="600.70" font-size="9.72" fill="#222" stroke="#222" stroke-width="0.3" text-anchor="middle" textLength="10.01" lengthAdjust="spacingAndGlyphs" >10</text>
<line x1="421.60" y1="583.60" x2="421.60" y2="587.90" stroke="#111" stroke-width="1.5"/>
<text x="421.60" y="600.70" font-size="9.72" fill="#222" stroke="#222" stroke-width="0.3" text-anchor="middle" textLength="10.01" lengthAdjust="spacingAndGlyphs" >20</text>
<text x="377.40" y="619.00" font-size="13" fill="#1a1a1a" stroke="#1a1a1a" stroke-width="0.55" textLength="23.8" lengthAdjust="spacingAndGlyphs" >Days</text>
<text x="284.30" y="542.70" font-size="13" fill="#1a1a1a" stroke="#1a1a1a" stroke-width="0.55" textLength="18.5" lengthAdjust="spacingAndGlyphs" transform="rotate(-90 284.30 542.70)">EFS</text>
<path d="M358.8,488.1 H366.2 V499.6 H368.5 V510 H370.3 V522.2 H375.8 V533.1 H380.5 V566.5 H403.1 V579.5" fill="none" stroke="#111" stroke-width="1.9" stroke-linejoin="miter"/>
<path d="M325.8,488.1 H358.8 V508.8 H365 V518.1 H367.3 V528.5 H369.6 V538.2 H375.4 V549.2 H377.2 V559.6 H379.5 V568.8 H385.8 V579.5" fill="none" stroke="#b5b5b5" stroke-width="1.8" stroke-linejoin="miter"/>
<text x="389.20" y="525.70" font-size="8" fill="#1a1a1a" stroke="#1a1a1a" stroke-width="0.3" textLength="29" lengthAdjust="spacingAndGlyphs"><tspan font-style="italic">P</tspan> = .180</text>
<line x1="318.90" y1="636.50" x2="318.90" y2="736.60" stroke="#111" stroke-width="1.6"/>
<line x1="318.10" y1="735.80" x2="459.50" y2="735.80" stroke="#111" stroke-width="1.6"/>
<line x1="314.60" y1="639.90" x2="318.90" y2="639.90" stroke="#111" stroke-width="1.5"/>
<text x="310.30" y="642.80" font-size="9.72" fill="#222" stroke="#222" stroke-width="0.3" text-anchor="end" textLength="17.51" lengthAdjust="spacingAndGlyphs" >1.00</text>
<line x1="314.60" y1="662.62" x2="318.90" y2="662.62" stroke="#111" stroke-width="1.5"/>
<text x="310.30" y="665.52" font-size="9.72" fill="#222" stroke="#222" stroke-width="0.3" text-anchor="end" textLength="17.51" lengthAdjust="spacingAndGlyphs" >0.75</text>
<line x1="314.60" y1="685.35" x2="318.90" y2="685.35" stroke="#111" stroke-width="1.5"/>
<text x="310.30" y="688.25" font-size="9.72" fill="#222" stroke="#222" stroke-width="0.3" text-anchor="end" textLength="17.51" lengthAdjust="spacingAndGlyphs" >0.50</text>
<line x1="314.60" y1="708.07" x2="318.90" y2="708.07" stroke="#111" stroke-width="1.5"/>
<text x="310.30" y="710.97" font-size="9.72" fill="#222" stroke="#222" stroke-width="0.3" text-anchor="end" textLength="17.51" lengthAdjust="spacingAndGlyphs" >0.25</text>
<line x1="314.60" y1="730.80" x2="318.90" y2="730.80" stroke="#111" stroke-width="1.5"/>
<text x="310.30" y="733.70" font-size="9.72" fill="#222" stroke="#222" stroke-width="0.3" text-anchor="end" textLength="17.51" lengthAdjust="spacingAndGlyphs" >0.00</text>
<line x1="325.80" y1="735.80" x2="325.80" y2="740.10" stroke="#111" stroke-width="1.5"/>
<text x="325.80" y="752.90" font-size="9.72" fill="#222" stroke="#222" stroke-width="0.3" text-anchor="middle" textLength="5.0" lengthAdjust="spacingAndGlyphs" >0</text>
<line x1="356.05" y1="735.80" x2="356.05" y2="740.10" stroke="#111" stroke-width="1.5"/>
<text x="356.05" y="752.90" font-size="9.72" fill="#222" stroke="#222" stroke-width="0.3" text-anchor="middle" textLength="5.0" lengthAdjust="spacingAndGlyphs" >5</text>
<line x1="386.30" y1="735.80" x2="386.30" y2="740.10" stroke="#111" stroke-width="1.5"/>
<text x="386.30" y="752.90" font-size="9.72" fill="#222" stroke="#222" stroke-width="0.3" text-anchor="middle" textLength="10.01" lengthAdjust="spacingAndGlyphs" >10</text>
<line x1="416.55" y1="735.80" x2="416.55" y2="740.10" stroke="#111" stroke-width="1.5"/>
<text x="416.55" y="752.90" font-size="9.72" fill="#222" stroke="#222" stroke-width="0.3" text-anchor="middle" textLength="10.01" lengthAdjust="spacingAndGlyphs" >15</text>
<line x1="446.80" y1="735.80" x2="446.80" y2="740.10" stroke="#111" stroke-width="1.5"/>
<text x="446.80" y="752.90" font-size="9.72" fill="#222" stroke="#222" stroke-width="0.3" text-anchor="middle" textLength="10.01" lengthAdjust="spacingAndGlyphs" >20</text>
<text x="377.40" y="771.20" font-size="13" fill="#1a1a1a" stroke="#1a1a1a" stroke-width="0.55" textLength="23.8" lengthAdjust="spacingAndGlyphs" >Days</text>
<text x="284.30" y="694.60" font-size="13" fill="#1a1a1a" stroke="#1a1a1a" stroke-width="0.55" textLength="18.5" lengthAdjust="spacingAndGlyphs" transform="rotate(-90 284.30 694.60)">EFS</text>
<path d="M387.4,639.9 V651.2 H390.4 V663.5 H392 V675 H393.4 V685.4 H394.3 V696.9 H395.7 V709.6 H397.3 V720 H398.5 V731.5" fill="none" stroke="#111" stroke-width="1.9" stroke-linejoin="miter"/>
<path d="M325.8,639.9 H399.6 V651.2 H401.2 V663.5 H403.1 V673.8 H405 V685.4 H407.2 V696.9 H411.2 V708.5 H412.8 V720 H414.2 V731.5" fill="none" stroke="#b5b5b5" stroke-width="1.8" stroke-linejoin="miter"/>
<text x="338.50" y="698.00" font-size="8" fill="#1a1a1a" stroke="#1a1a1a" stroke-width="0.3" textLength="29" lengthAdjust="spacingAndGlyphs"><tspan font-style="italic">P</tspan> &lt; .001</text>
<text x="12.40" y="799.20" font-size="17" fill="#000" font-weight="bold" >F</text>
<line x1="61.80" y1="788.00" x2="61.80" y2="996.90" stroke="#111" stroke-width="1.6"/>
<line x1="61.00" y1="996.10" x2="239.50" y2="996.10" stroke="#111" stroke-width="1.6"/>
<line x1="57.40" y1="978.20" x2="61.80" y2="978.20" stroke="#111" stroke-width="1.5"/>
<text x="52.60" y="981.10" font-size="9.72" fill="#222" stroke="#222" stroke-width="0.3" text-anchor="end" textLength="5.0" lengthAdjust="spacingAndGlyphs" >0</text>
<line x1="57.40" y1="941.12" x2="61.80" y2="941.12" stroke="#111" stroke-width="1.5"/>
<text x="52.60" y="944.02" font-size="9.72" fill="#222" stroke="#222" stroke-width="0.3" text-anchor="end" textLength="10.01" lengthAdjust="spacingAndGlyphs" >20</text>
<line x1="57.40" y1="904.04" x2="61.80" y2="904.04" stroke="#111" stroke-width="1.5"/>
<text x="52.60" y="906.94" font-size="9.72" fill="#222" stroke="#222" stroke-width="0.3" text-anchor="end" textLength="10.01" lengthAdjust="spacingAndGlyphs" >40</text>
<line x1="57.40" y1="866.96" x2="61.80" y2="866.96" stroke="#111" stroke-width="1.5"/>
<text x="52.60" y="869.86" font-size="9.72" fill="#222" stroke="#222" stroke-width="0.3" text-anchor="end" textLength="10.01" lengthAdjust="spacingAndGlyphs" >60</text>
<line x1="57.40" y1="829.88" x2="61.80" y2="829.88" stroke="#111" stroke-width="1.5"/>
<text x="52.60" y="832.78" font-size="9.72" fill="#222" stroke="#222" stroke-width="0.3" text-anchor="end" textLength="10.01" lengthAdjust="spacingAndGlyphs" >80</text>
<line x1="57.40" y1="792.80" x2="61.80" y2="792.80" stroke="#111" stroke-width="1.5"/>
<text x="52.60" y="795.70" font-size="9.72" fill="#222" stroke="#222" stroke-width="0.3" text-anchor="end" textLength="15.01" lengthAdjust="spacingAndGlyphs" >100</text>
<line x1="79.40" y1="996.10" x2="79.40" y2="1000.50" stroke="#111" stroke-width="1.5"/>
<text x="84.40" y="1008.70" font-size="9.3" fill="#1a1a1a" stroke="#1a1a1a" stroke-width="0.3" text-anchor="end" transform="rotate(-45 84.40 1008.70)">MLLr-ALL</text>
<line x1="115.10" y1="996.10" x2="115.10" y2="1000.50" stroke="#111" stroke-width="1.5"/>
<text x="120.10" y="1008.70" font-size="9.3" fill="#1a1a1a" stroke="#1a1a1a" stroke-width="0.3" text-anchor="end" transform="rotate(-45 120.10 1008.70)">BCP-ALL</text>
<line x1="150.80" y1="996.10" x2="150.80" y2="1000.50" stroke="#111" stroke-width="1.5"/>
<text x="155.80" y="1008.70" font-size="9.3" fill="#1a1a1a" stroke="#1a1a1a" stroke-width="0.3" text-anchor="end" transform="rotate(-45 155.80 1008.70)">JAK-mutated</text>
<line x1="186.40" y1="996.10" x2="186.40" y2="1000.50" stroke="#111" stroke-width="1.5"/>
<text x="191.40" y="1008.70" font-size="9.3" fill="#1a1a1a" stroke="#1a1a1a" stroke-width="0.3" text-anchor="end" transform="rotate(-45 191.40 1008.70)">T-ALL</text>
<line x1="222.00" y1="996.10" x2="222.00" y2="1000.50" stroke="#111" stroke-width="1.5"/>
<text x="227.00" y="1008.70" font-size="9.3" fill="#1a1a1a" stroke="#1a1a1a" stroke-width="0.3" text-anchor="end" transform="rotate(-45 227.00 1008.70)">ETP-ALL</text>
<text x="29.80" y="970.90" font-size="12" fill="#1a1a1a" stroke="#1a1a1a" stroke-width="0.55" textLength="152.2" lengthAdjust="spacingAndGlyphs" transform="rotate(-90 29.80 970.90)">Leukemia Growth Delay (days)</text>
<circle cx="74.8" cy="807.2" r="2.3" fill="#000"/>
<text x="82.10" y="809.80" font-size="8" fill="#1a1a1a" stroke="#1a1a1a" stroke-width="0.3" >Navitoclax</text>
<rect x="72.5" y="817.9" width="4.6" height="4.6" fill="#931434"/>
<text x="82.10" y="822.90" font-size="8" fill="#1a1a1a" stroke="#1a1a1a" stroke-width="0.3" >Venetoclax</text>
<circle cx="70.75" cy="947.50" r="2.35" fill="#000"/>
<circle cx="76.25" cy="944.50" r="2.35" fill="#000"/>
<circle cx="73.00" cy="955.50" r="2.35" fill="#000"/>
<circle cx="73.00" cy="967.00" r="2.35" fill="#000"/>
<line x1="68.75" y1="951.75" x2="77.50" y2="951.75" stroke="#000" stroke-width="1.5"/>
<rect x="84.05" y="936.55" width="4.4" height="4.4" fill="#931434"/>
<rect x="84.05" y="947.80" width="4.4" height="4.4" fill="#931434"/>
<rect x="81.55" y="973.30" width="4.4" height="4.4" fill="#931434"/>
<rect x="87.30" y="973.30" width="4.4" height="4.4" fill="#931434"/>
<line x1="82.50" y1="962.50" x2="90.50" y2="962.50" stroke="#931434" stroke-width="1.5"/>
<circle cx="108.25" cy="908.00" r="2.35" fill="#000"/>
<circle cx="108.00" cy="927.50" r="2.35" fill="#000"/>
<circle cx="104.50" cy="932.00" r="2.35" fill="#000"/>
<circle cx="110.50" cy="938.00" r="2.35" fill="#000"/>
<circle cx="108.25" cy="976.75" r="2.35" fill="#000"/>
<line x1="102.50" y1="932.50" x2="113.00" y2="932.50" stroke="#000" stroke-width="1.5"/>
<rect x="117.30" y="924.80" width="4.4" height="4.4" fill="#931434"/>
<rect x="122.80" y="924.05" width="4.4" height="4.4" fill="#931434"/>
<rect x="119.05" y="955.30" width="4.4" height="4.4" fill="#931434"/>
<rect x="117.30" y="973.55" width="4.4" height="4.4" fill="#931434"/>
<rect x="122.80" y="971.55" width="4.4" height="4.4" fill="#931434"/>
<line x1="118.50" y1="957.50" x2="126.50" y2="957.50" stroke="#931434" stroke-width="1.5"/>
<circle cx="144.25" cy="930.00" r="2.35" fill="#000"/>
<line x1="140.00" y1="930.00" x2="149.50" y2="930.00" stroke="#000" stroke-width="1.5"/>
<rect x="155.30" y="955.80" width="4.4" height="4.4" fill="#931434"/>
<rect x="155.30" y="965.80" width="4.4" height="4.4" fill="#931434"/>
<rect x="152.80" y="972.80" width="4.4" height="4.4" fill="#931434"/>
<rect x="159.05" y="971.55" width="4.4" height="4.4" fill="#931434"/>
<line x1="152.50" y1="968.00" x2="163.00" y2="968.00" stroke="#931434" stroke-width="1.5"/>
<circle cx="179.50" cy="820.75" r="2.35" fill="#000"/>
<circle cx="179.50" cy="883.75" r="2.35" fill="#000"/>
<line x1="175.00" y1="883.75" x2="184.50" y2="883.75" stroke="#000" stroke-width="1.5"/>
<circle cx="179.50" cy="947.50" r="2.35" fill="#000"/>
<rect x="190.80" y="967.05" width="4.4" height="4.4" fill="#931434"/>
<rect x="189.30" y="976.55" width="4.4" height="4.4" fill="#931434"/>
<rect x="190.80" y="980.30" width="4.4" height="4.4" fill="#931434"/>
<line x1="188.50" y1="978.50" x2="197.00" y2="978.50" stroke="#931434" stroke-width="1.5"/>
<circle cx="215.00" cy="921.25" r="2.35" fill="#000"/>
<circle cx="215.00" cy="948.00" r="2.35" fill="#000"/>
<line x1="210.50" y1="934.50" x2="220.00" y2="934.50" stroke="#000" stroke-width="1.5"/>
<rect x="224.05" y="972.05" width="4.4" height="4.4" fill="#931434"/>
<rect x="230.30" y="972.05" width="4.4" height="4.4" fill="#931434"/>
<text x="253.90" y="804.60" font-size="17" fill="#000" font-weight="bold" >G</text>
<rect x="414.50" y="795.40" width="52.20" height="6.8" fill="#ab0c30"/>
<line x1="314.20" y1="798.60" x2="319.00" y2="798.60" stroke="#111" stroke-width="1.6"/>
<text x="309.80" y="801.70" font-size="9.5" fill="#1a1a1a" stroke="#1a1a1a" stroke-width="0.3" text-anchor="end" >MLL-2</text>
<rect x="327.50" y="806.07" width="87.00" height="6.8" fill="#ab0c30"/>
<line x1="314.20" y1="809.27" x2="319.00" y2="809.27" stroke="#111" stroke-width="1.6"/>
<text x="309.80" y="812.37" font-size="9.5" fill="#1a1a1a" stroke="#1a1a1a" stroke-width="0.3" text-anchor="end" >MLL-5</text>
<rect x="414.50" y="816.73" width="17.40" height="6.8" fill="#ab0c30"/>
<line x1="314.20" y1="819.93" x2="319.00" y2="819.93" stroke="#111" stroke-width="1.6"/>
<text x="309.80" y="823.03" font-size="9.5" fill="#1a1a1a" stroke="#1a1a1a" stroke-width="0.3" text-anchor="end" >MLL-7</text>
<rect x="327.50" y="827.40" width="87.00" height="6.8" fill="#ab0c30"/>
<line x1="314.20" y1="830.60" x2="319.00" y2="830.60" stroke="#111" stroke-width="1.6"/>
<text x="309.80" y="833.70" font-size="9.5" fill="#1a1a1a" stroke="#1a1a1a" stroke-width="0.3" text-anchor="end" >MLL-14</text>
<rect x="327.50" y="838.07" width="87.00" height="6.8" fill="#2b4c7e"/>
<line x1="314.20" y1="841.27" x2="319.00" y2="841.27" stroke="#111" stroke-width="1.6"/>
<text x="309.80" y="844.37" font-size="9.5" fill="#1a1a1a" stroke="#1a1a1a" stroke-width="0.3" text-anchor="end" >ALL-2</text>
<rect x="327.50" y="848.74" width="87.00" height="6.8" fill="#2b4c7e"/>
<line x1="314.20" y1="851.93" x2="319.00" y2="851.93" stroke="#111" stroke-width="1.6"/>
<text x="309.80" y="855.03" font-size="9.5" fill="#1a1a1a" stroke="#1a1a1a" stroke-width="0.3" text-anchor="end" >ALL-4</text>
<rect x="414.50" y="859.40" width="52.20" height="6.8" fill="#2b4c7e"/>
<line x1="314.20" y1="862.60" x2="319.00" y2="862.60" stroke="#111" stroke-width="1.6"/>
<text x="309.80" y="865.70" font-size="9.5" fill="#1a1a1a" stroke="#1a1a1a" stroke-width="0.3" text-anchor="end" >ALL-7</text>
<rect x="414.50" y="870.07" width="52.20" height="6.8" fill="#2b4c7e"/>
<line x1="314.20" y1="873.27" x2="319.00" y2="873.27" stroke="#111" stroke-width="1.6"/>
<text x="309.80" y="876.37" font-size="9.5" fill="#1a1a1a" stroke="#1a1a1a" stroke-width="0.3" text-anchor="end" >ALL-17</text>
<rect x="362.30" y="880.74" width="52.20" height="6.8" fill="#2b4c7e"/>
<line x1="314.20" y1="883.94" x2="319.00" y2="883.94" stroke="#111" stroke-width="1.6"/>
<text x="309.80" y="887.04" font-size="9.5" fill="#1a1a1a" stroke="#1a1a1a" stroke-width="0.3" text-anchor="end" >ALL-19</text>
<rect x="362.30" y="891.40" width="52.20" height="6.8" fill="#6aaee0"/>
<line x1="314.20" y1="894.60" x2="319.00" y2="894.60" stroke="#111" stroke-width="1.6"/>
<text x="309.80" y="897.70" font-size="9.5" fill="#1a1a1a" stroke="#1a1a1a" stroke-width="0.3" text-anchor="end" >ALL-10</text>
<rect x="327.50" y="902.07" width="87.00" height="6.8" fill="#6aaee0"/>
<line x1="314.20" y1="905.27" x2="319.00" y2="905.27" stroke="#111" stroke-width="1.6"/>
<text x="309.80" y="908.37" font-size="9.5" fill="#1a1a1a" stroke="#1a1a1a" stroke-width="0.3" text-anchor="end" >PAKHZT</text>
<rect x="327.50" y="912.74" width="87.00" height="6.8" fill="#6aaee0"/>
<line x1="314.20" y1="915.94" x2="319.00" y2="915.94" stroke="#111" stroke-width="1.6"/>
<text x="309.80" y="919.04" font-size="9.5" fill="#1a1a1a" stroke="#1a1a1a" stroke-width="0.3" text-anchor="end" >PAKRSL</text>
<rect x="414.50" y="923.40" width="17.40" height="6.8" fill="#6aaee0"/>
<line x1="314.20" y1="926.60" x2="319.00" y2="926.60" stroke="#111" stroke-width="1.6"/>
<text x="309.80" y="929.70" font-size="9.5" fill="#1a1a1a" stroke="#1a1a1a" stroke-width="0.3" text-anchor="end" >PAKSWW</text>
<rect x="327.50" y="934.07" width="87.00" height="6.8" fill="#6aa843"/>
<line x1="314.20" y1="937.27" x2="319.00" y2="937.27" stroke="#111" stroke-width="1.6"/>
<text x="309.80" y="940.37" font-size="9.5" fill="#1a1a1a" stroke="#1a1a1a" stroke-width="0.3" text-anchor="end" >ALL-8</text>
<rect x="327.50" y="944.74" width="87.00" height="6.8" fill="#6aa843"/>
<line x1="314.20" y1="947.94" x2="319.00" y2="947.94" stroke="#111" stroke-width="1.6"/>
<text x="309.80" y="951.04" font-size="9.5" fill="#1a1a1a" stroke="#1a1a1a" stroke-width="0.3" text-anchor="end" >ALL-27</text>
<rect x="327.50" y="955.40" width="87.00" height="6.8" fill="#6aa843"/>
<line x1="314.20" y1="958.60" x2="319.00" y2="958.60" stroke="#111" stroke-width="1.6"/>
<text x="309.80" y="961.70" font-size="9.5" fill="#1a1a1a" stroke="#1a1a1a" stroke-width="0.3" text-anchor="end" >ALL-31</text>
<rect x="327.50" y="966.07" width="87.00" height="6.8" fill="#6aa843"/>
<line x1="314.20" y1="969.27" x2="319.00" y2="969.27" stroke="#111" stroke-width="1.6"/>
<text x="309.80" y="972.37" font-size="9.5" fill="#1a1a1a" stroke="#1a1a1a" stroke-width="0.3" text-anchor="end" >ALL-44</text>
<rect x="327.50" y="976.74" width="87.00" height="6.8" fill="#c8157f"/>
<line x1="314.20" y1="979.94" x2="319.00" y2="979.94" stroke="#111" stroke-width="1.6"/>
<text x="309.80" y="983.04" font-size="9.5" fill="#1a1a1a" stroke="#1a1a1a" stroke-width="0.3" text-anchor="end" >ETP-1</text>
<rect x="327.50" y="987.41" width="87.00" height="6.8" fill="#c8157f"/>
<line x1="314.20" y1="990.61" x2="319.00" y2="990.61" stroke="#111" stroke-width="1.6"/>
<text x="309.80" y="993.71" font-size="9.5" fill="#1a1a1a" stroke="#1a1a1a" stroke-width="0.3" text-anchor="end" >ETP-2</text>
<rect x="319" y="792.9" width="190.9" height="202.9" fill="none" stroke="#111" stroke-width="1.9"/>
<line x1="414.30" y1="792.90" x2="414.30" y2="995.80" stroke="#111" stroke-width="1.9"/>
<line x1="344.90" y1="995.80" x2="344.90" y2="1000.30" stroke="#111" stroke-width="1.5"/>
<text x="344.90" y="1013.60" font-size="10.04" fill="#222" stroke="#222" stroke-width="0.3" text-anchor="middle" textLength="8.27" lengthAdjust="spacingAndGlyphs" >-4</text>
<line x1="379.70" y1="995.80" x2="379.70" y2="1000.30" stroke="#111" stroke-width="1.5"/>
<text x="379.70" y="1013.60" font-size="10.04" fill="#222" stroke="#222" stroke-width="0.3" text-anchor="middle" textLength="8.27" lengthAdjust="spacingAndGlyphs" >-2</text>
<line x1="414.50" y1="995.80" x2="414.50" y2="1000.30" stroke="#111" stroke-width="1.5"/>
<text x="414.50" y="1013.60" font-size="10.04" fill="#222" stroke="#222" stroke-width="0.3" text-anchor="middle" textLength="5.17" lengthAdjust="spacingAndGlyphs" >0</text>
<line x1="449.30" y1="995.80" x2="449.30" y2="1000.30" stroke="#111" stroke-width="1.5"/>
<text x="449.30" y="1013.60" font-size="10.04" fill="#222" stroke="#222" stroke-width="0.3" text-anchor="middle" textLength="5.17" lengthAdjust="spacingAndGlyphs" >2</text>
<line x1="484.10" y1="995.80" x2="484.10" y2="1000.30" stroke="#111" stroke-width="1.5"/>
<text x="484.10" y="1013.60" font-size="10.04" fill="#222" stroke="#222" stroke-width="0.3" text-anchor="middle" textLength="5.17" lengthAdjust="spacingAndGlyphs" >4</text>
<text x="462.65" y="817.60" font-size="8.5" fill="#951535" stroke="#951535" stroke-width="0.3" textLength="33.5" lengthAdjust="spacingAndGlyphs" >MLLr-ALL</text>
<text x="463.60" y="855.20" font-size="8.5" fill="#34507c" stroke="#34507c" stroke-width="0.3" textLength="32" lengthAdjust="spacingAndGlyphs" >BCP-ALL</text>
<text x="456.30" y="908.50" font-size="8.5" fill="#70a6d4" stroke="#70a6d4" stroke-width="0.3" textLength="45.6" lengthAdjust="spacingAndGlyphs" >JAK-mutated</text>
<text x="472.45" y="918.30" font-size="8.5" fill="#70a6d4" stroke="#70a6d4" stroke-width="0.3" textLength="13.3" lengthAdjust="spacingAndGlyphs" >ALL</text>
<text x="468.45" y="956.00" font-size="8.5" fill="#6c9c4a" stroke="#6c9c4a" stroke-width="0.3" textLength="21.3" lengthAdjust="spacingAndGlyphs" >T-ALL</text>
<text x="463.80" y="988.30" font-size="8.5" fill="#c01a80" stroke="#c01a80" stroke-width="0.3" textLength="31.2" lengthAdjust="spacingAndGlyphs" >ETP-ALL</text>
<text x="354.90" y="1031.80" font-size="13" fill="#1a1a1a" stroke="#1a1a1a" stroke-width="0.55" textLength="23.6" lengthAdjust="spacingAndGlyphs" >Non-</text>
<text x="338.70" y="1046.70" font-size="13" fill="#1a1a1a" stroke="#1a1a1a" stroke-width="0.55" textLength="56.4" lengthAdjust="spacingAndGlyphs" >responders</text>
<text x="436.60" y="1031.80" font-size="13" fill="#1a1a1a" stroke="#1a1a1a" stroke-width="0.55" textLength="46.4" lengthAdjust="spacingAndGlyphs" >Objective</text>
<text x="434.50" y="1046.70" font-size="13" fill="#1a1a1a" stroke="#1a1a1a" stroke-width="0.55" textLength="56.5" lengthAdjust="spacingAndGlyphs" >responders</text>
<rect x="0.5" y="0.5" width="519" height="1058" fill="none" stroke="#000" stroke-width="1.2"/>
<line x1="0" y1="1059" x2="520" y2="1059" stroke="#000" stroke-width="1.5"/>
</svg>
</body></html>
